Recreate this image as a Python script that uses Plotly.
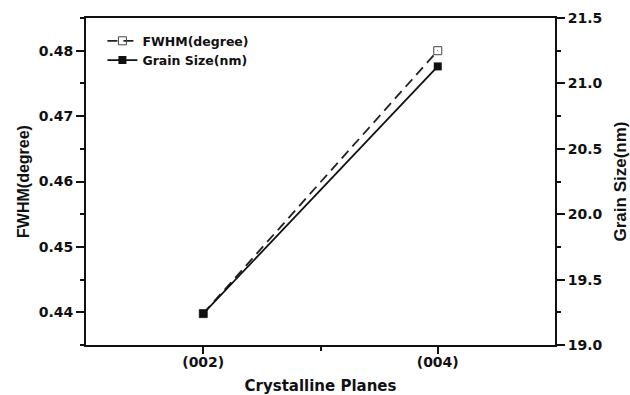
import plotly.graph_objects as go

planes = ["(002)", "(004)"]
plane_pos = [1, 2]
fwhm = [0.4398, 0.480]
grain = [19.24, 21.13]

wide = "DejaVu Sans"
narrow = "Liberation Sans"

fig = go.Figure()
fig.add_trace(go.Scatter(
    x=plane_pos, y=fwhm, name="FWHM(degree)", mode="lines+markers",
    line=dict(color="#222", width=1.8, dash="10px,6px"),
    marker=dict(symbol="square-open", size=8, color="#444", line=dict(width=1)),
    yaxis="y"))
fig.add_trace(go.Scatter(
    x=plane_pos, y=grain, name="Grain Size(nm)", mode="lines+markers",
    line=dict(color="#111", width=1.8),
    marker=dict(symbol="square", size=8, color="#111"),
    yaxis="y2"))

axfont = dict(family=wide, size=14, color="#111", weight="bold")
xtitlefont = dict(family=wide, size=15, color="#111", weight="bold")
ytitlefont = dict(family=narrow, size=16, color="#111", weight="bold")
y2titlefont = dict(family=narrow, size=17, color="#111", weight="bold")

fig.update_layout(
    width=630, height=395,
    margin=dict(l=86, r=75, t=18, b=50),
    paper_bgcolor="white", plot_bgcolor="white",
    showlegend=True,
    legend=dict(x=0.035, y=0.975, xanchor="left", yanchor="top",
                bgcolor="rgba(0,0,0,0)",
                font=dict(family=wide, size=12.5, color="#111", weight="bold"),
                tracegroupgap=0, itemwidth=30),
    xaxis=dict(range=[0.5, 2.5], tickvals=plane_pos, ticktext=planes,
               showline=True, linecolor="#111", linewidth=2, mirror=True,
               ticks="outside", ticklen=7, tickwidth=2, tickcolor="#111",
               ticklabelstandoff=-4, automargin=False,
               minor=dict(tickvals=[1.5], ticks="outside", ticklen=4, tickwidth=2, tickcolor="#111"),
               showgrid=False, zeroline=False, tickfont=axfont,
               title=dict(text="Crystalline Planes", font=xtitlefont, standoff=12)),
    yaxis=dict(range=[0.435, 0.485], tick0=0.44, dtick=0.01, tickformat=".2f",
               showline=True, linecolor="#111", linewidth=2, automargin=False,
               ticks="outside", ticklen=8, tickwidth=2, tickcolor="#111",
               minor=dict(dtick=0.005, tick0=0.435, ticks="outside", ticklen=4, tickwidth=1.5, tickcolor="#111"),
               showgrid=False, zeroline=False, tickfont=axfont,
               title=dict(text="FWHM(degree)", font=ytitlefont, standoff=5)),
    yaxis2=dict(range=[19, 21.5], tick0=19, dtick=0.5, tickformat=".1f",
                overlaying="y", side="right", automargin=False,
                showline=True, linecolor="#111", linewidth=2,
                ticks="outside", ticklen=8, tickwidth=2, tickcolor="#111",
                minor=dict(dtick=0.25, tick0=19, ticks="outside", ticklen=4, tickwidth=1.5, tickcolor="#111"),
                showgrid=False, zeroline=False, tickfont=axfont,
                title=dict(text="Grain Size(nm)", font=y2titlefont, standoff=20)),
)

fig.write_html("out.html")
